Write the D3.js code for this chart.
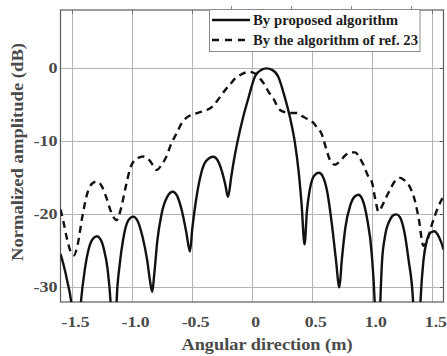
<!DOCTYPE html>
<html>
<head>
<meta charset="utf-8">
<script src="https://cdn.jsdelivr.net/npm/d3@7/dist/d3.min.js"></script>
<style>
  body { margin: 0; background: #fff; }
  svg { display: block; font-family: "Liberation Serif", "Times New Roman", serif; font-weight: bold; }
</style>
</head>
<body>
<svg id="chart" width="447" height="356"></svg>
<script>
// angular direction (m), normalized amplitude (dB)
const proposed = [
  [-1.592, -25.4], [-1.565, -27.0], [-1.535, -29.2], [-1.5, -32.5], [-1.48, -37], [-1.464, -50],
  [-1.445, -37], [-1.422, -32], [-1.39, -27.6], [-1.355, -24.6], [-1.32, -23.3], [-1.29, -23.0],
  [-1.26, -23.4], [-1.23, -24.8], [-1.2, -27.5], [-1.175, -32], [-1.16, -37], [-1.147, -50],
  [-1.135, -37], [-1.125, -32], [-1.1, -27], [-1.07, -23.4], [-1.03, -20.9], [-0.987, -20.3],
  [-0.95, -20.9], [-0.91, -23], [-0.87, -26.3], [-0.845, -29.3], [-0.828, -30.6],
  [-0.812, -28.3], [-0.785, -23.5], [-0.75, -19.9], [-0.7, -17.5], [-0.658, -16.9],
  [-0.62, -17.5], [-0.58, -19.6], [-0.545, -22.4], [-0.514, -25.1],
  [-0.495, -22], [-0.465, -18.2], [-0.43, -15.0], [-0.38, -12.7], [-0.32, -12.1],
  [-0.28, -12.7], [-0.25, -14.0], [-0.22, -15.9], [-0.197, -17.6],
  [-0.17, -14.8], [-0.145, -12.3], [-0.12, -10.2], [-0.07, -6.6], [-0.028, -4.1], [0.03, -1.0],
  [0.08, -0.2], [0.122, 0], [0.17, -0.2], [0.22, -1.1], [0.278, -4.1], [0.32, -6.8],
  [0.36, -10.2], [0.39, -14.0], [0.415, -18.5], [0.44, -24.1],
  [0.46, -19.5], [0.485, -16.5], [0.52, -14.7], [0.56, -14.3], [0.595, -14.9], [0.63, -17],
  [0.665, -21], [0.7, -26], [0.73, -30.0],
  [0.75, -26.3], [0.78, -21.8], [0.82, -18.8], [0.855, -17.6], [0.888, -17.3], [0.92, -17.9],
  [0.96, -20.5], [1.0, -25.5], [1.024, -32], [1.036, -38], [1.048, -50],
  [1.06, -38], [1.071, -32], [1.085, -26.5], [1.11, -23], [1.15, -20.8], [1.18, -20.1],
  [1.207, -20.0], [1.235, -20.4], [1.27, -22.3], [1.305, -26.1], [1.344, -32], [1.36, -38], [1.375, -50],
  [1.39, -38], [1.405, -32], [1.43, -26.3], [1.46, -23.5], [1.49, -22.5], [1.52, -22.3],
  [1.55, -22.8], [1.575, -23.7], [1.597, -24.8]
];

const ref23 = [
  [-1.592, -19.3], [-1.57, -20.8], [-1.54, -23.2], [-1.51, -25.0], [-1.48, -25.6], [-1.45, -24.2],
  [-1.41, -20.3], [-1.37, -17.2], [-1.33, -15.8], [-1.29, -15.5], [-1.25, -16.1], [-1.21, -17.7],
  [-1.17, -19.7], [-1.125, -20.8], [-1.09, -19.3], [-1.05, -16.3], [-1.005, -13.4], [-0.95, -12.3],
  [-0.9, -12.06], [-0.85, -12.6], [-0.79, -13.9], [-0.75, -13.2], [-0.71, -12.06], [-0.667, -10.2],
  [-0.625, -8.9], [-0.583, -7.5], [-0.54, -6.7], [-0.485, -6.3], [-0.43, -6.0], [-0.375, -5.7],
  [-0.333, -5.3], [-0.29, -4.5], [-0.25, -3.6], [-0.208, -2.7], [-0.18, -2.2], [-0.14, -1.4],
  [-0.083, -0.8], [-0.028, -0.45], [0.028, -0.7], [0.07, -1.4], [0.11, -2.3], [0.14, -3.2],
  [0.18, -4.1], [0.208, -5.0], [0.236, -5.7], [0.28, -6.0], [0.32, -6.1], [0.375, -6.1],
  [0.416, -6.5], [0.46, -6.9], [0.51, -7.4], [0.54, -8.0], [0.583, -9.0], [0.62, -11],
  [0.65, -12.5], [0.694, -13.2], [0.73, -12.8], [0.78, -11.9], [0.83, -11.5], [0.861, -11.5],
  [0.9, -12.3], [0.93, -13.2], [0.965, -14.6], [1.0, -15.5], [1.03, -18], [1.055, -19.6],
  [1.09, -18.7], [1.11, -18.0], [1.152, -16.6], [1.19, -15.5], [1.236, -15.0], [1.27, -15.3],
  [1.305, -15.9], [1.36, -18.2], [1.39, -20.5], [1.43, -24.3], [1.46, -23.6], [1.5, -21.4],
  [1.555, -18.9], [1.597, -17.5]
];

const xTicks = [-1.5, -1.0, -0.5, 0, 0.5, 1.0, 1.5];
const xTickLabels = ["-1.5", "-1.0", "-0.5", "0", "0.5", "1.0", "1.5"];
const yTicks = [0, -10, -20, -30];
const topOuterTicks = [-0.175, 0.325, 0.825, 1.325];
const legendLabels = ["By proposed algorithm", "By the algorithm of ref. 23"];

const svg = d3.select("#chart");
const plot = { left: 60.5, right: 443.5, top: 10, bottom: 302 };

const x = d3.scaleLinear().domain([-1.592, 1.597]).range([plot.left, plot.right]);
const y = d3.scaleLinear().domain([-32, 8]).range([plot.bottom, plot.top]);

svg.append("defs").append("clipPath").attr("id", "clip")
  .append("rect")
  .attr("x", plot.left).attr("y", plot.top)
  .attr("width", plot.right - plot.left).attr("height", plot.bottom - plot.top);

// grid
const grid = svg.append("g").attr("shape-rendering", "crispEdges");
grid.selectAll(".gx").data(xTicks).join("line")
  .attr("x1", (d) => Math.round(x(d)) + 0.5).attr("x2", (d) => Math.round(x(d)) + 0.5)
  .attr("y1", plot.top).attr("y2", plot.bottom)
  .attr("stroke", "#b4b4b4").attr("stroke-width", 1);
grid.selectAll(".gy").data(yTicks).join("line")
  .attr("x1", plot.left).attr("x2", plot.right)
  .attr("y1", (d) => Math.round(y(d)) + 0.5).attr("y2", (d) => Math.round(y(d)) + 0.5)
  .attr("stroke", "#b4b4b4").attr("stroke-width", 1);

// small ticks (inside right / top, and the odd ones above the top edge)
grid.selectAll(".tr").data(yTicks).join("line")
  .attr("x1", plot.right - 4).attr("x2", plot.right)
  .attr("y1", (d) => Math.round(y(d)) + 0.5).attr("y2", (d) => Math.round(y(d)) + 0.5)
  .attr("stroke", "#555");
grid.selectAll(".tt").data(xTicks).join("line")
  .attr("x1", (d) => Math.round(x(d)) + 0.5).attr("x2", (d) => Math.round(x(d)) + 0.5)
  .attr("y1", plot.top).attr("y2", plot.top + 4)
  .attr("stroke", "#777");
grid.selectAll(".to").data(topOuterTicks).join("line")
  .attr("x1", (d) => Math.round(x(d)) + 0.5).attr("x2", (d) => Math.round(x(d)) + 0.5)
  .attr("y1", plot.top - 4).attr("y2", plot.top)
  .attr("stroke", "#888");

// frame
svg.append("rect")
  .attr("x", plot.left).attr("y", plot.top)
  .attr("width", plot.right - plot.left).attr("height", plot.bottom - plot.top)
  .attr("fill", "none").attr("stroke", "#5a5a5a").attr("stroke-width", 1.2);

// curves
const line = d3.line()
  .x((d) => x(d[0]))
  .y((d) => y(d[1]))
  .curve(d3.curveMonotoneX);

const curves = svg.append("g").attr("clip-path", "url(#clip)");
curves.append("path").datum(ref23)
  .attr("d", line)
  .attr("fill", "none").attr("stroke", "#111")
  .attr("stroke-width", 2.4).attr("stroke-dasharray", "7,5");
curves.append("path").datum(proposed)
  .attr("d", line)
  .attr("fill", "none").attr("stroke", "#111")
  .attr("stroke-width", 2.4).attr("stroke-linejoin", "round");

// tick labels
svg.append("g").selectAll("text").data(xTicks).join("text")
  .attr("transform", (d) => `translate(${x(d) + 4},327) scale(1.18,1)`)
  .attr("text-anchor", "middle")
  .style("font-size", "15px")
  .attr("fill", "#4a4a4a")
  .text((d, i) => xTickLabels[i]);

svg.append("g").selectAll("text").data(yTicks).join("text")
  .attr("transform", (d) => `translate(57.5,${y(d) + 5}) scale(1.2,1)`)
  .attr("text-anchor", "end")
  .style("font-size", "15px")
  .attr("fill", "#4a4a4a")
  .text((d) => d);

// axis titles
svg.append("text")
  .attr("x", 267).attr("y", 350)
  .attr("text-anchor", "middle")
  .style("font-size", "16.5px")
  .attr("fill", "#4a4a4a")
  .attr("textLength", 171).attr("lengthAdjust", "spacingAndGlyphs")
  .text("Angular direction (m)");

svg.append("text")
  .attr("transform", "translate(22.5,152) rotate(-90)")
  .attr("text-anchor", "middle")
  .style("font-size", "16.5px")
  .attr("fill", "#4a4a4a")
  .attr("textLength", 218).attr("lengthAdjust", "spacingAndGlyphs")
  .text("Normalized amplitude (dB)");

// legend
const legend = svg.append("g");
legend.append("rect")
  .attr("x", 209.5).attr("y", 9.5).attr("width", 210.5).attr("height", 42)
  .attr("fill", "#fff").attr("stroke", "#8a8a8a").attr("stroke-width", 1);

const legendRows = legend.selectAll("g").data(legendLabels).join("g")
  .attr("transform", (d, i) => `translate(0,${20 + i * 20})`);
legendRows.append("line")
  .attr("x1", 212).attr("x2", 250).attr("y1", 0).attr("y2", 0)
  .attr("stroke", "#111").attr("stroke-width", 2.4)
  .attr("stroke-dasharray", (d, i) => (i === 1 ? "7,6" : null));
legendRows.append("text")
  .attr("x", 253).attr("y", 5)
  .style("font-size", "14px")
  .attr("fill", "#1e1e1e")
  .attr("textLength", (d, i) => (i === 0 ? 145 : 165))
  .attr("lengthAdjust", "spacingAndGlyphs")
  .text((d) => d);
</script>
</body>
</html>
